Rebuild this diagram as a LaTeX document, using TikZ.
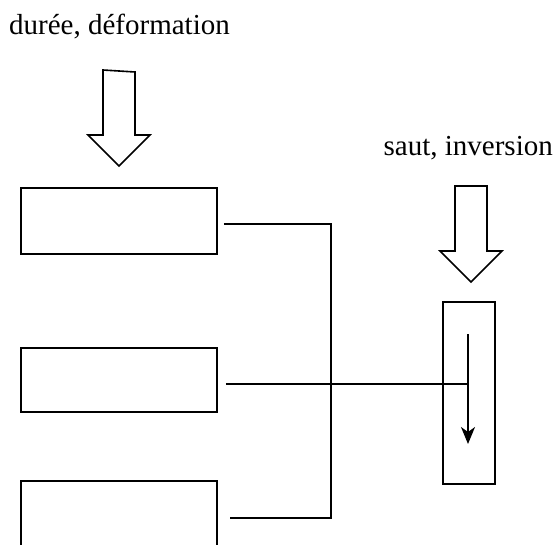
\documentclass[tikz,border=0pt]{standalone}
\usepackage{fontspec}
\setmainfont{Liberation Serif}
\usetikzlibrary{arrows.meta}

\tikzset{
    bloc/.style={draw, line width=1.6pt, minimum width=196pt, inner sep=0pt},
    trait/.style={line width=1.6pt},
    titre/.style={inner sep=0pt, font=\fontsize{29}{31}\selectfont},
}

\begin{document}
\begin{tikzpicture}[x=1pt,y=-1pt]
        \clip (0,0) rectangle (554,544);

        % Etiquettes des deux entrées
        \node[titre, anchor=base west] (duree) at (9,34) {durée, déformation};
        \node[titre, anchor=base east] (saut) at (553,155) {saut, inversion};

        % Les trois blocs de gauche (le dernier sort du cadre)
        \node[bloc, minimum height=66pt] (b1) at (119,221) {};
        \node[bloc, minimum height=64pt] (b2) at (119,380) {};
        \node[bloc, minimum height=66pt] (b3) at (119,514) {};

        % Bloc vertical de droite
        \node[draw, line width=1.6pt, minimum width=52pt, minimum height=182pt, inner sep=0pt] (inv) at (469,393) {};

        % Grosse flèche creuse de gauche
        \draw[trait] (103,70) -- (135,72) -- (135,135) -- (150,135) -- (119,166)
            -- (88,135) -- (103,135) -- cycle;

        % Grosse flèche creuse de droite
        \draw[trait] (455,186) -- (487,186) -- (487,251) -- (502,251) -- (471,282)
            -- (440,251) -- (455,251) -- cycle;

        % Flèche à l'intérieur du bloc de droite
        \coordinate (depart) at (468,334);
        \coordinate (arrivee) at (468,444);
        \draw[trait, -{Stealth[length=17pt, width=14pt, inset=5pt]}] (depart) -- (arrivee);

        % Liaison entre le premier et le troisième bloc
        \coordinate (coin) at (331,518);
        \draw[trait] ([xshift=6pt, yshift=-3pt]b1.east) -| (coin)
            -- ([xshift=12pt]b3.east |- coin);

        % Liaison du bloc du milieu vers la flèche
        \coordinate (jonction) at (468,384);
        \draw[trait] ([xshift=8pt]b2.east |- jonction) -- (jonction);

\end{tikzpicture}
\end{document}
